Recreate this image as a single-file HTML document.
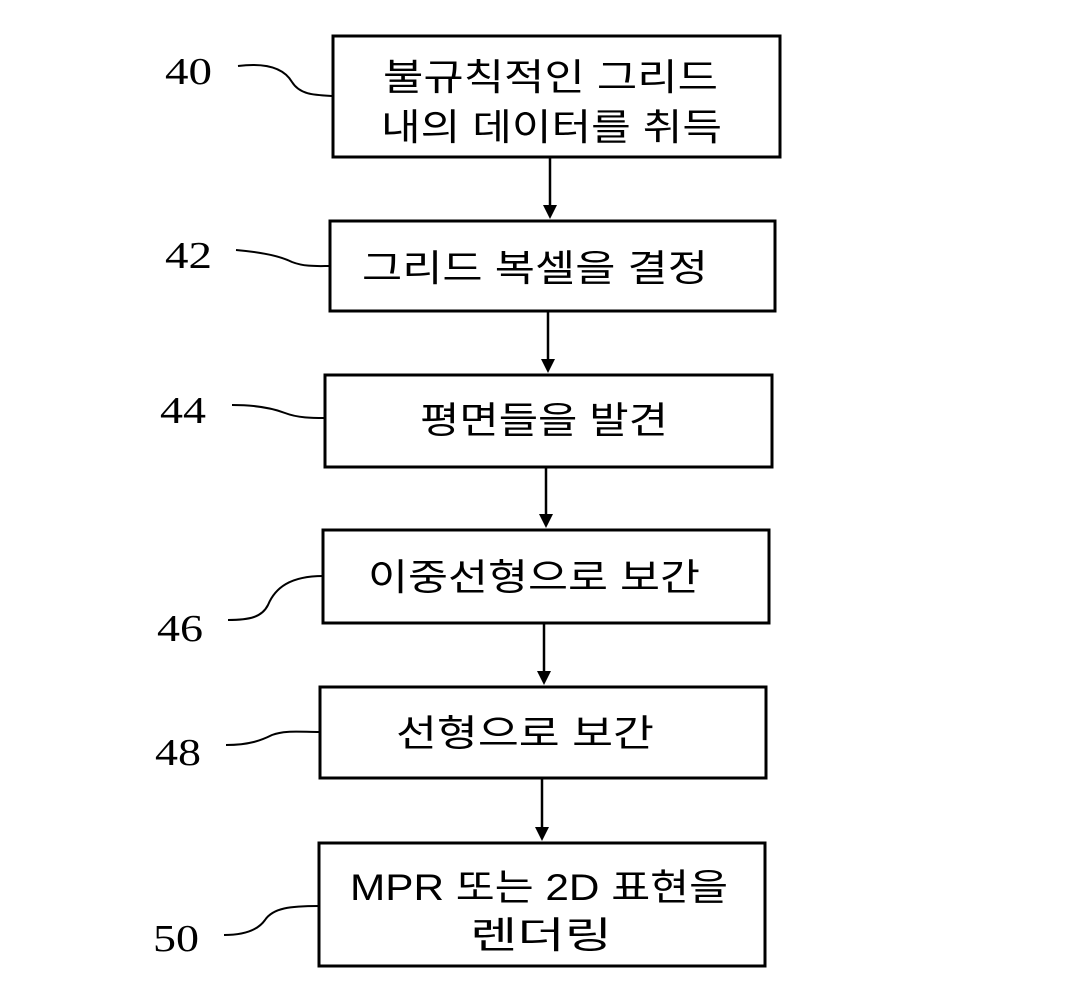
<!DOCTYPE html>
<html><head><meta charset="utf-8"><style>
body{margin:0;background:#fff;width:1083px;height:1004px;overflow:hidden}
svg{position:absolute;left:0;top:0}
</style></head><body>
<svg width="1083" height="1004" viewBox="0 0 1083 1004">
<g fill="none" stroke="#000" stroke-width="3">
<rect x="333" y="36" width="447" height="121"/>
<rect x="330" y="221" width="445" height="90"/>
<rect x="325" y="375" width="447" height="92"/>
<rect x="323" y="530" width="446" height="93"/>
<rect x="320" y="687" width="446" height="91"/>
<rect x="319" y="843" width="446" height="123"/>
</g>
<g stroke="#000" stroke-width="2.5">
<line x1="550" y1="157" x2="550" y2="208"/>
<line x1="548" y1="311" x2="548" y2="362"/>
<line x1="546" y1="467" x2="546" y2="517"/>
<line x1="544" y1="623" x2="544" y2="674"/>
<line x1="542" y1="778" x2="542" y2="830"/>
</g>
<g fill="#000">
<path d="M543,205 L557,205 L550,219 Z"/>
<path d="M541,359 L555,359 L548,373 Z"/>
<path d="M539,514 L553,514 L546,528 Z"/>
<path d="M537,671 L551,671 L544,685 Z"/>
<path d="M535,827 L549,827 L542,841 Z"/>
</g>
<g fill="none" stroke="#000" stroke-width="2">
<path d="M238,66 C270,62 285,70 292,82 C300,95 315,95 333,96"/>
<path d="M236,250 C260,252 280,256 292,262 C305,267 318,266 330,266"/>
<path d="M232,405 C255,405 272,408 285,413 C298,418 312,418 325,418"/>
<path d="M228,620 C250,620 262,617 268,605 C275,588 290,576 323,576"/>
<path d="M226,745 C250,745 262,740 272,735 C285,730 300,732 320,732"/>
<path d="M224,935 C245,935 258,930 265,920 C273,908 290,906 319,906"/>
</g>
<g font-family="Liberation Serif, serif" font-size="38" fill="#000">
<text x="165" y="84" textLength="47" lengthAdjust="spacingAndGlyphs">40</text>
<text x="165" y="268" textLength="47" lengthAdjust="spacingAndGlyphs">42</text>
<text x="160" y="423" textLength="46" lengthAdjust="spacingAndGlyphs">44</text>
<text x="157" y="641" textLength="46" lengthAdjust="spacingAndGlyphs">46</text>
<text x="155" y="765" textLength="46" lengthAdjust="spacingAndGlyphs">48</text>
<text x="153" y="951" textLength="46" lengthAdjust="spacingAndGlyphs">50</text>
</g>
<g font-family="Liberation Sans, 'Noto Sans CJK KR', sans-serif" font-size="37" fill="#000">
<text x="383" y="90" textLength="335" lengthAdjust="spacingAndGlyphs">불규칙적인 그리드</text>
<text x="381" y="140" textLength="341" lengthAdjust="spacingAndGlyphs">내의 데이터를 취득</text>
<text x="362" y="281" textLength="346" lengthAdjust="spacingAndGlyphs">그리드 복셀을 결정</text>
<text x="420" y="433" textLength="248" lengthAdjust="spacingAndGlyphs">평면들을 발견</text>
<text x="368" y="590" textLength="332" lengthAdjust="spacingAndGlyphs">이중선형으로 보간</text>
<text x="396" y="746" textLength="258" lengthAdjust="spacingAndGlyphs">선형으로 보간</text>
<text x="350" y="900" textLength="378" lengthAdjust="spacingAndGlyphs">MPR 또는 2D 표현을</text>
<text x="470" y="948" textLength="142" lengthAdjust="spacingAndGlyphs">렌더링</text>
</g>
</svg>
</body></html>
